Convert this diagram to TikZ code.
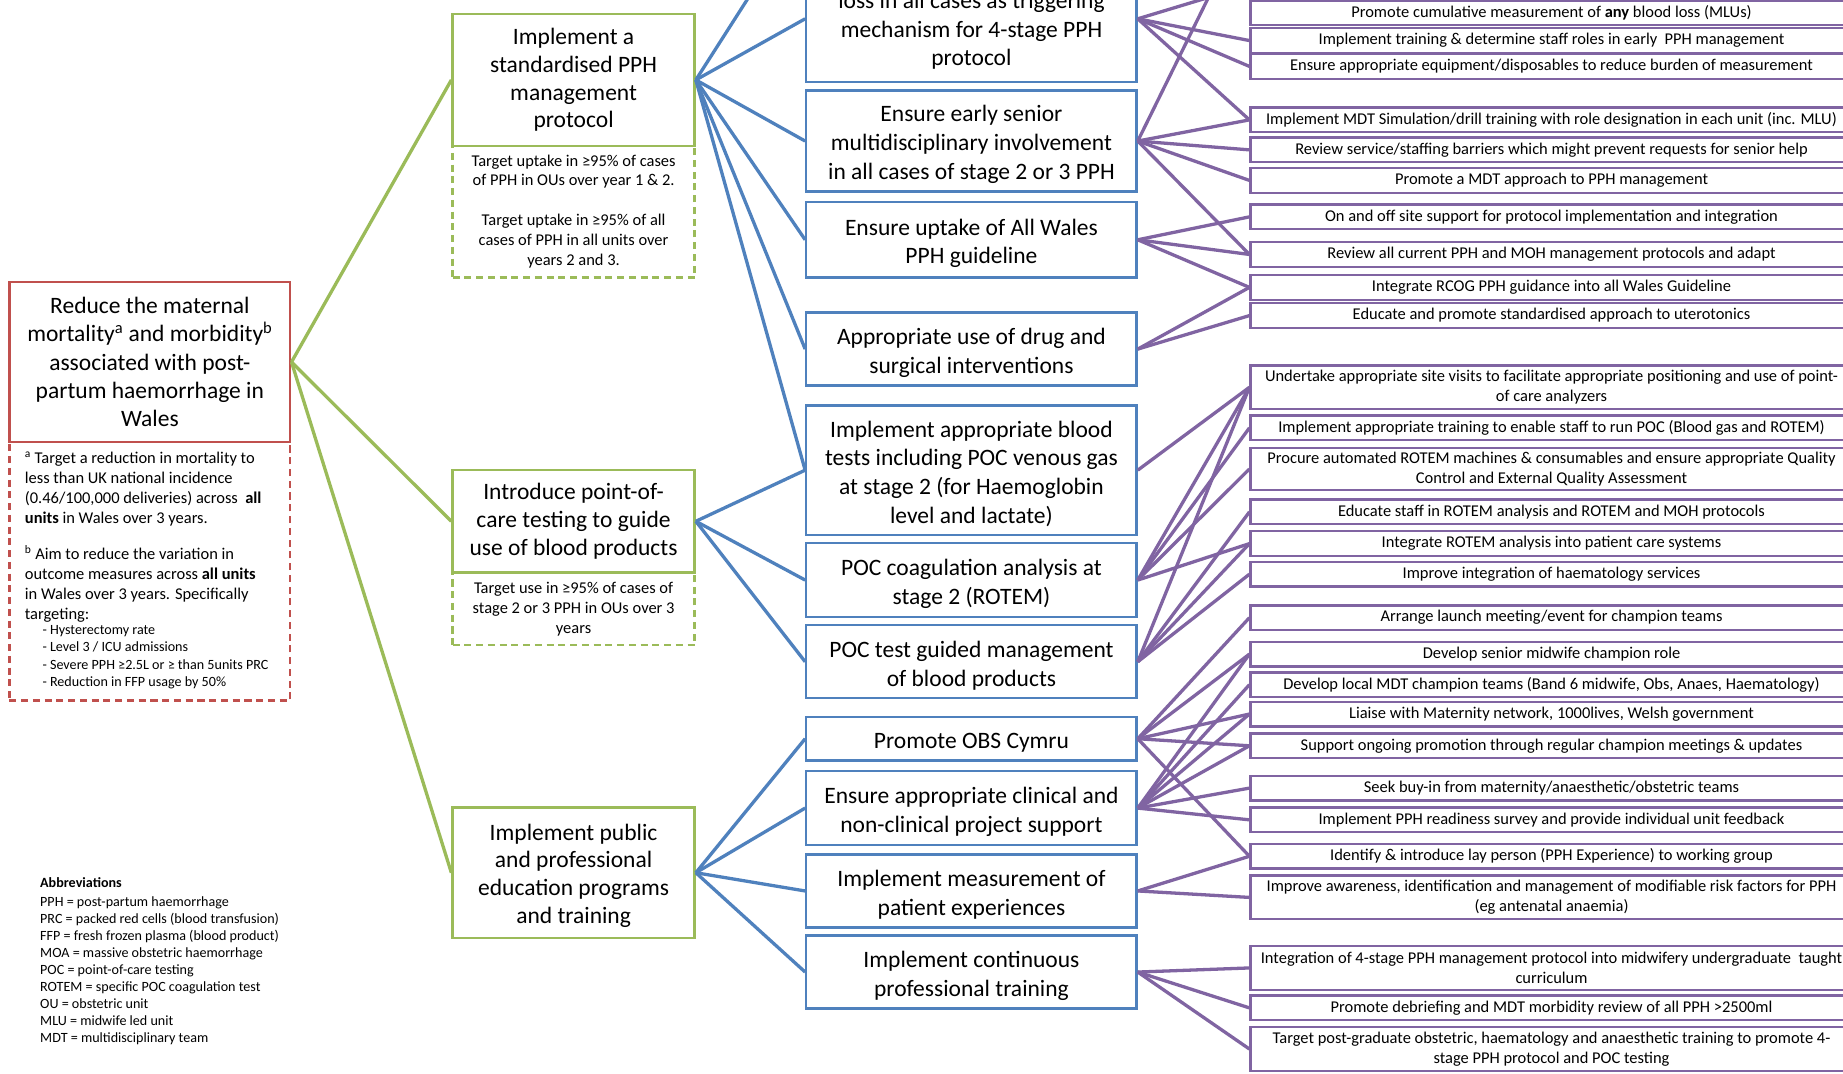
\documentclass[tikz,border=0pt]{standalone}
\usepackage{fontspec}
\setmainfont{Carlito}
\usepackage{tikz}

\definecolor{aimred}{RGB}{192,80,77}
\definecolor{drvgreen}{RGB}{155,187,89}
\definecolor{chgblue}{RGB}{79,129,189}
\definecolor{actpurple}{RGB}{128,100,162}

\newcommand{\topgap}{\rule{0pt}{20pt}}

\tikzset{
  aimbox/.style={draw=aimred, line width=2pt, fill=white, align=center, inner sep=0pt,
    minimum width=239pt, font=\fontsize{20}{24}\selectfont},
  drvbox/.style={draw=drvgreen, line width=2pt, fill=white, align=center, inner sep=0pt,
    minimum width=206pt, font=\fontsize{20}{23.7}\selectfont},
  chgbox/.style={draw=chgblue, line width=2pt, fill=white, align=center, inner sep=0pt,
    minimum width=281pt, font=\fontsize{20}{24.5}\selectfont},
  actbox/.style={draw=actpurple, line width=2pt, fill=white, align=center, inner sep=0pt,
    minimum width=512pt, font=\fontsize{14}{17}\selectfont},
  tgtbox/.style={dashed, dash pattern=on 6pt off 4pt, line width=2pt, align=center, inner sep=0pt,
    font=\fontsize{14}{17}\selectfont},
  notetext/.style={align=left, inner sep=0pt, font=\fontsize{14}{17}\selectfont},
  listtext/.style={align=left, inner sep=0pt, font=\fontsize{12}{14.7}\selectfont},
  abbrtext/.style={align=left, inner sep=0pt, font=\fontsize{12}{14.4}\selectfont},
  drvlink/.style={draw=drvgreen, line width=2.8pt},
  chglink/.style={draw=chgblue, line width=2.8pt},
  actlink/.style={draw=actpurple, line width=2.8pt},
}

\begin{document}
\begin{tikzpicture}[x=1pt,y=-1pt]
                \useasboundingbox (0,0) rectangle (1568,913);
                \clip (0,0) rectangle (1568,913);
                \fill[white] (0,0) rectangle (1568,913);

                % targets under the aim and the drivers
                \node[tgtbox, draw=aimred, minimum width=239pt, minimum height=220pt] (aimtgt) at (127.5,486) {};
                \node[tgtbox, draw=drvgreen, minimum width=206pt, minimum height=112pt] (protgt) at (488,180)
                    {Target uptake in ≥95\% of cases\\of PPH in OUs over year 1 \& 2.\\[17pt]Target uptake in ≥95\% of all\\cases of PPH in all units over\\years 2 and 3.};
                \node[tgtbox, draw=drvgreen, minimum width=206pt, minimum height=62pt] (poctgt) at (488,518)
                    {Target use in ≥95\% of cases of\\stage 2 or 3 PPH in OUs over 3\\years};

                \node[aimbox, minimum height=136pt] (aim) at (127.5,308)
                    {Reduce the maternal\\mortality\textsuperscript{a} and morbidity\textsuperscript{b}\\associated with post-\\partum haemorrhage in\\Wales};
                \node[notetext, anchor=north west] (notea) at (21,384)
                    {\textsuperscript{a} Target a reduction in mortality to\\less than UK national incidence\\(0.46/100,000 deliveries) across \ \textbf{all}\\\textbf{units} in Wales over 3 years.};
                \node[notetext, anchor=north west] (noteb) at (21,464)
                    {\textsuperscript{b} Aim to reduce the variation in\\outcome measures across \textbf{all units}\\in Wales over 3 years. Specifically\\targeting:};
                \node[listtext, anchor=north west] (notelist) at (36,532)
                    {- Hysterectomy rate\\- Level 3 / ICU admissions\\- Severe PPH ≥2.5L or ≥ than 5units PRC\\- Reduction in FFP usage by 50\%};

                \node[abbrtext, anchor=north west] (abbr) at (34,746)
                    {\textbf{Abbreviations}\\[2.5pt]PPH = post-partum haemorrhage\\PRC = packed red cells (blood transfusion)\\FFP = fresh frozen plasma (blood product)\\MOA = massive obstetric haemorrhage\\POC = point-of-care testing\\ROTEM = specific POC coagulation test\\OU = obstetric unit\\MLU = midwife led unit\\MDT = multidisciplinary team};

                % primary drivers
                \node[drvbox, minimum height=112pt] (prot) at (488,68) {Implement a\\standardised PPH\\management\\protocol};
                \node[drvbox, minimum height=87pt] (poc) at (488,443.5) {Introduce point-of-\\care testing to guide\\use of blood products};
                \node[drvbox, minimum height=111pt] (edu) at (488,742.5) {\rule{0pt}{19pt}Implement public\\and professional\\education programs\\and training};

                % secondary drivers
                \coordinate (chgtop) at (686,-79);
                \node[chgbox, minimum height=108pt] (trig) at (826.5,16) {\rule{0pt}{10pt}\\loss in all cases as triggering\\mechanism for 4-stage PPH\\protocol};
                \node[chgbox, minimum height=86pt] (senior) at (826.5,120) {\topgap Ensure early senior\\multidisciplinary involvement\\in all cases of stage 2 or 3 PPH};
                \node[chgbox, minimum height=64pt] (guide) at (826.5,204) {\topgap Ensure uptake of All Wales\\PPH guideline};
                \node[chgbox, minimum height=62pt] (drug) at (826.5,297) {\topgap Appropriate use of drug and\\surgical interventions};
                \node[chgbox, minimum height=110pt] (blood) at (826.5,400) {\topgap Implement appropriate blood\\tests including POC venous gas\\at stage 2 (for Haemoglobin\\level and lactate)};
                \node[chgbox, minimum height=63pt] (rotem) at (826.5,493.5) {\topgap POC coagulation analysis at\\stage 2 (ROTEM)};
                \node[chgbox, minimum height=62pt] (guided) at (826.5,563) {\topgap POC test guided management\\of blood products};
                \node[chgbox, minimum height=37pt] (obs) at (826.5,628.5) {\topgap Promote OBS Cymru};
                \node[chgbox, minimum height=63pt] (support) at (826.5,687.5) {\topgap Ensure appropriate clinical and\\non-clinical project support};
                \node[chgbox, minimum height=62pt] (patexp) at (826.5,758) {\topgap Implement measurement of\\patient experiences};
                \node[chgbox, minimum height=62pt] (cpd) at (826.5,827) {\topgap Implement continuous\\professional training};

                % change ideas
                \coordinate (acttopa) at (1064,-13);
                \coordinate (acttopb) at (1064,-75);
                \node[actbox, minimum height=21pt] (cumul) at (1320,11) {Promote cumulative measurement of \textbf{any} blood loss (MLUs)};
                \node[actbox, minimum height=21pt] (roles) at (1320,34.5) {Implement training \& determine staff roles in early \ PPH management};
                \node[actbox, minimum height=21pt] (equip) at (1320,56.5) {Ensure appropriate equipment/disposables to reduce burden of measurement};
                \node[actbox, minimum height=21pt] (drill) at (1320,102) {Implement MDT Simulation/drill training with role designation in each unit (inc. MLU)};
                \node[actbox, minimum height=21pt] (barrier) at (1320,127.5) {Review service/staffing barriers which might prevent requests for senior help};
                \node[actbox, minimum height=21pt] (mdt) at (1320,153.5) {Promote a MDT approach to PPH management};
                \node[actbox, minimum height=21pt] (onsite) at (1320,184.5) {On and off site support for protocol implementation and integration};
                \node[actbox, minimum height=21pt] (review) at (1320,216.5) {Review all current PPH and MOH management protocols and adapt};
                \node[actbox, minimum height=21pt] (rcog) at (1320,244.5) {Integrate RCOG PPH guidance into all Wales Guideline};
                \node[actbox, minimum height=21pt] (utero) at (1320,268.5) {Educate and promote standardised approach to uterotonics};
                \node[actbox, minimum height=37pt] (visits) at (1320,329.5) {Undertake appropriate site visits to facilitate appropriate positioning and use of point-\\of care analyzers};
                \node[actbox, minimum height=21pt] (poctrain) at (1320,364) {Implement appropriate training to enable staff to run POC (Blood gas and ROTEM)};
                \node[actbox, minimum height=36pt] (procure) at (1320,399) {Procure automated ROTEM machines \& consumables and ensure appropriate Quality\\Control and External Quality Assessment};
                \node[actbox, minimum height=21pt] (rotemed) at (1320,435.5) {Educate staff in ROTEM analysis and ROTEM and MOH protocols};
                \node[actbox, minimum height=21pt] (rotemint) at (1320,462.5) {Integrate ROTEM analysis into patient care systems};
                \node[actbox, minimum height=21pt] (haem) at (1320,488.5) {Improve integration of haematology services};
                \node[actbox, minimum height=21pt] (launch) at (1320,525.5) {Arrange launch meeting/event for champion teams};
                \node[actbox, minimum height=21pt] (midwife) at (1320,556.5) {Develop senior midwife champion role};
                \node[actbox, minimum height=21pt] (champ) at (1320,582.5) {Develop local MDT champion teams (Band 6 midwife, Obs, Anaes, Haematology)};
                \node[actbox, minimum height=21pt] (liaise) at (1320,607.5) {Liaise with Maternity network, 1000lives, Welsh government};
                \node[actbox, minimum height=21pt] (ongoing) at (1320,634.5) {Support ongoing promotion through regular champion meetings \& updates};
                \node[actbox, minimum height=21pt] (buyin) at (1320,670.5) {Seek buy-in from maternity/anaesthetic/obstetric teams};
                \node[actbox, minimum height=21pt] (survey) at (1320,697.5) {Implement PPH readiness survey and provide individual unit feedback};
                \node[actbox, minimum height=21pt] (layper) at (1320,728.5) {Identify \& introduce lay person (PPH Experience) to working group};
                \node[actbox, minimum height=37pt] (risk) at (1320,763.5) {Improve awareness, identification and management of modifiable risk factors for PPH\\(eg antenatal anaemia)};
                \node[actbox, minimum height=37pt] (ugrad) at (1320,823.5) {Integration of 4-stage PPH management protocol into midwifery undergraduate \ taught\\curriculum};
                \node[actbox, minimum height=21pt] (debrief) at (1320,857.5) {Promote debriefing and MDT morbidity review of all PPH >2500ml};
                \node[actbox, minimum height=37pt] (pgrad) at (1320,892.5) {Target post-graduate obstetric, haematology and anaesthetic training to promote 4-\\stage PPH protocol and POC testing};

                % aim to primary drivers
                \draw[drvlink] (aim.east) -- (prot.west);
                \draw[drvlink] (aim.east) -- (poc.west);
                \draw[drvlink] (aim.east) -- (edu.west);

                % primary to secondary drivers
                \draw[chglink] (prot.east) -- (chgtop);
                \draw[chglink] (prot.east) -- (trig.west);
                \draw[chglink] (prot.east) -- (senior.west);
                \draw[chglink] (prot.east) -- (guide.west);
                \draw[chglink] (prot.east) -- (drug.west);
                \draw[chglink] (prot.east) -- (blood.west);
                \draw[chglink] (poc.east) -- (blood.west);
                \draw[chglink] (poc.east) -- (rotem.west);
                \draw[chglink] (poc.east) -- (guided.west);
                \draw[chglink] (edu.east) -- (obs.west);
                \draw[chglink] (edu.east) -- (support.west);
                \draw[chglink] (edu.east) -- (patexp.west);
                \draw[chglink] (edu.east) -- (cpd.west);

                % secondary drivers to change ideas
                \draw[actlink] (trig.east) -- (acttopa);
                \draw[actlink] (trig.east) -- (roles.west);
                \draw[actlink] (trig.east) -- (equip.west);
                \draw[actlink] (trig.east) -- (drill.west);
                \draw[actlink] (senior.east) -- (acttopb);
                \draw[actlink] (senior.east) -- (drill.west);
                \draw[actlink] (senior.east) -- (barrier.west);
                \draw[actlink] (senior.east) -- (mdt.west);
                \draw[actlink] (senior.east) -- (review.west);
                \draw[actlink] (guide.east) -- (onsite.west);
                \draw[actlink] (guide.east) -- (review.west);
                \draw[actlink] (guide.east) -- (rcog.west);
                \draw[actlink] (drug.east) -- (rcog.west);
                \draw[actlink] (drug.east) -- (utero.west);
                \draw[actlink] (blood.east) -- (visits.west);
                \draw[actlink] (rotem.east) -- (visits.west);
                \draw[actlink] (rotem.east) -- (poctrain.west);
                \draw[actlink] (rotem.east) -- (procure.west);
                \draw[actlink] (rotem.east) -- (rotemint.west);
                \draw[actlink] (guided.east) -- (visits.west);
                \draw[actlink] (guided.east) -- (rotemed.west);
                \draw[actlink] (guided.east) -- (rotemint.west);
                \draw[actlink] (guided.east) -- (haem.west);
                \draw[actlink] (obs.east) -- (launch.west);
                \draw[actlink] (obs.east) -- (midwife.west);
                \draw[actlink] (obs.east) -- (liaise.west);
                \draw[actlink] (obs.east) -- (ongoing.west);
                \draw[actlink] (obs.east) -- (layper.west);
                \draw[actlink] (support.east) -- (midwife.west);
                \draw[actlink] (support.east) -- (champ.west);
                \draw[actlink] (support.east) -- (liaise.west);
                \draw[actlink] (support.east) -- (ongoing.west);
                \draw[actlink] (support.east) -- (buyin.west);
                \draw[actlink] (support.east) -- (survey.west);
                \draw[actlink] (patexp.east) -- (layper.west);
                \draw[actlink] (patexp.east) -- (risk.west);
                \draw[actlink] (cpd.east) -- (ugrad.west);
                \draw[actlink] (cpd.east) -- (debrief.west);
                \draw[actlink] (cpd.east) -- (pgrad.west);
\end{tikzpicture}
\end{document}
